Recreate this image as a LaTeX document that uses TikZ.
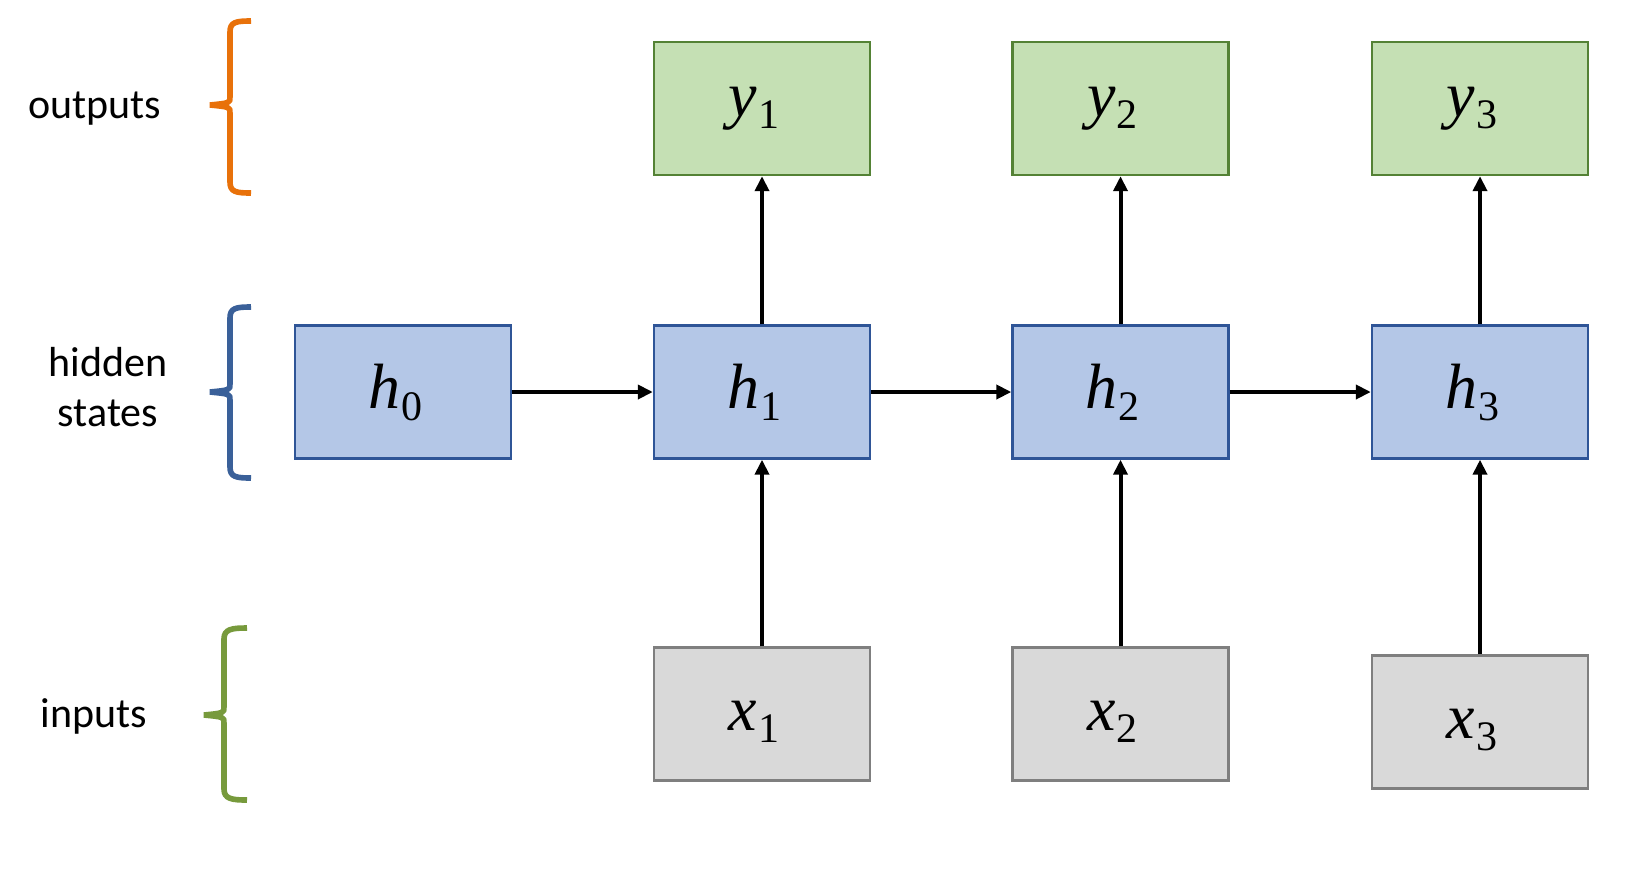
\documentclass[tikz,border=0pt]{standalone}
\usepackage{fontspec}
\setmainfont{Carlito}
\newfontfamily\labfont{Liberation Serif}
\usetikzlibrary{arrows.meta}
\definecolor{hfill}{HTML}{B4C7E7}
\definecolor{hdraw}{HTML}{2F5597}
\definecolor{yfill}{HTML}{C5E0B4}
\definecolor{ydraw}{HTML}{548235}
\definecolor{xfill}{HTML}{D9D9D9}
\definecolor{xdraw}{HTML}{7F7F7F}
\definecolor{bro}{HTML}{E8710A}
\definecolor{brb}{HTML}{3A6099}
\definecolor{brg}{HTML}{779A3C}
\newcommand\lab[2]{{\labfont\fontsize{32}{34}\selectfont\itshape #1}\kern0.5pt\raisebox{-6pt}{\labfont\fontsize{21}{21}\selectfont #2}}
\tikzset{
  cell/.style={rectangle, minimum width=108pt, minimum height=66.5pt, inner sep=0pt, line width=1.2pt},
  hcell/.style={cell, fill=hfill, draw=hdraw},
  ycell/.style={cell, fill=yfill, draw=ydraw},
  xcell/.style={cell, fill=xfill, draw=xdraw},
  tcell/.style={inner sep=0pt},
  conn/.style={line width=2pt, -{Triangle[length=7.5pt,width=7pt]}},
  brace/.style={line width=2.8pt, line cap=butt},
  lbl/.style={font=\fontsize{21}{25}\selectfont, align=center, inner sep=0pt}
}
\begin{document}
\begin{tikzpicture}[x=0.5pt,y=-0.5pt]
\useasboundingbox (0,0) rectangle (1636,868);
% output boxes
\node[ycell] (y1) at (762,108.5) {};
\node[ycell] (y2) at (1120.5,108.5) {};
\node[ycell] (y3) at (1480,108.5) {};
% hidden states
\node[hcell] (h0) at (403,392) {};
\node[hcell] (h1) at (762,392) {};
\node[hcell] (h2) at (1120.5,392) {};
\node[hcell] (h3) at (1480,392) {};
% inputs
\node[xcell] (x1) at (762,714) {};
\node[xcell] (x2) at (1120.5,714) {};
\node[xcell] (x3) at (1480,722) {};
% box texts
\foreach \n/\l/\s/\dy in {y1/y/1/0, y2/y/2/0, y3/y/3/0, h0/h/0/0, h1/h/1/0, h2/h/2/0, h3/h/3/0, x1/x/1/4, x2/x/2/4, x3/x/3/4}{
  \node[tcell] (t\n) at ([xshift=-4pt, yshift=-\dy pt]\n.center) {\lab{\l}{\s}};
}
% connectors
\draw[conn] (h0.east) -- (h1.west);
\draw[conn] (h1.east) -- (h2.west);
\draw[conn] (h2.east) -- (h3.west);
\draw[conn] (h1.north) -- (y1.south);
\draw[conn] (h2.north) -- (y2.south);
\draw[conn] (h3.north) -- (y3.south);
\draw[conn] (x1.north) -- (h1.south);
\draw[conn] (x2.north) -- (h2.south);
\draw[conn] (x3.north) -- (h3.south);
% labels
\node[lbl] (lout) at (95,109) {outputs};
\node[lbl] (lhid) at (108,387) {hidden\\states};
\node[lbl] (linp) at (94,716) {inputs};
% braces
\draw[brace, bro] (251,21) .. controls (236,21) and (230,22) .. (230,32) -- (230,97)
  .. controls (230,103) .. (210,105) .. controls (230,107) .. (230,113) -- (230,182)
  .. controls (230,192) and (236,193) .. (251,193);
\draw[brace, brb] (251,307) .. controls (236,307) and (230,308) .. (230,318) -- (230,384)
  .. controls (230,390) .. (210,392) .. controls (230,394) .. (230,400) -- (230,467)
  .. controls (230,477) and (236,478) .. (251,478);
\draw[brace, brg] (247,628) .. controls (232,628) and (224,629) .. (224,639) -- (224,707)
  .. controls (224,713) .. (204,715) .. controls (224,717) .. (224,723) -- (224,789)
  .. controls (224,799) and (232,800) .. (247,800);
\end{tikzpicture}
\end{document}
